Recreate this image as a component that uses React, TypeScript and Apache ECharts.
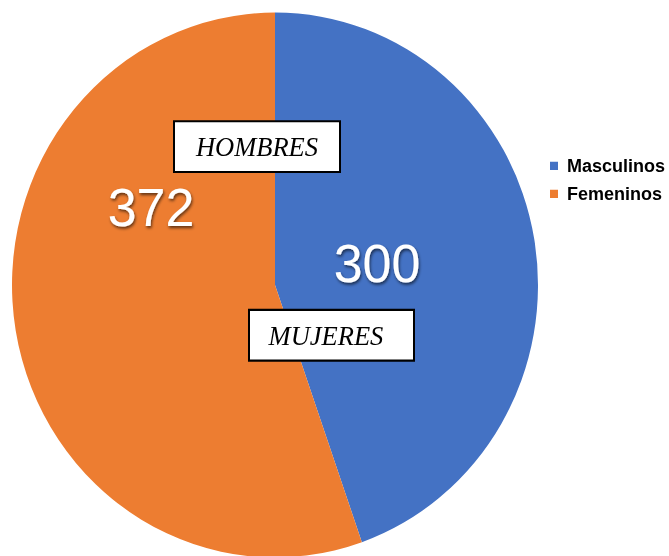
import React, { useEffect, useRef } from "react";
import * as echarts from "echarts";

const categories = ["Masculinos", "Femeninos"];
const values = [300, 372];
const colors = ["#4472C4", "#ED7D31"];
const boxLabels = ["HOMBRES", "MUJERES"];

export default function App() {
  const ref = useRef<HTMLDivElement>(null);
  useEffect(() => {
    if (!ref.current) return;
    const chart = echarts.init(ref.current, null, { renderer: "svg" });
    const labelPos = [
      { x: 377, y: 264 },
      { x: 151, y: 210 },
    ];
    chart.setOption({
      animation: false,
      backgroundColor: "#ffffff",
      legend: {
        orient: "vertical",
        left: 545,
        top: 156,
        itemWidth: 8,
        itemHeight: 8,
        itemGap: 9,
        icon: "rect",
        data: categories,
        textStyle: {
          fontFamily: "Liberation Sans, Arial, sans-serif",
          fontWeight: "bold",
          fontSize: 18,
          color: "#000",
          padding: [0, 0, 0, 4],
        },
      },
      series: [
        {
          type: "pie",
          center: [275, 285],
          radius: 263,
          startAngle: 90,
          clockwise: true,
          silent: true,
          itemStyle: { borderWidth: 0 },
          label: {
            show: true,
            position: "inside",
            formatter: "{c}",
            color: "#ffffff",
            fontFamily: "Liberation Sans, Arial, sans-serif",
            fontSize: 52,
            textShadowColor: "rgba(0,0,0,0.6)",
            textShadowBlur: 3,
            textShadowOffsetX: 1,
            textShadowOffsetY: 2,
          },
          labelLine: { show: false },
          labelLayout: (p: any) => ({
            x: labelPos[p.dataIndex].x,
            y: labelPos[p.dataIndex].y,
            align: "center",
            verticalAlign: "middle",
          }),
          data: categories.map((name, i) => ({
            name,
            value: values[i],
            itemStyle: { color: colors[i] },
          })),
        },
      ],
      graphic: [
        {
          type: "group",
          left: 173,
          top: 126,
          z: 100,
          children: [
            {
              type: "rect",
              z: 100,
              shape: { x: 0, y: 0, width: 166, height: 49 },
              style: { fill: "#ffffff", stroke: "#000000", lineWidth: 2 },
            },
            {
              type: "text",
              z: 101,
              style: {
                text: boxLabels[0],
                x: 83,
                y: 25,
                textAlign: "center",
                textVerticalAlign: "middle",
                font: "italic 26.5px 'Liberation Serif', 'Times New Roman', serif",
                fill: "#000000",
              },
            },
          ],
        },
        {
          type: "group",
          left: 248,
          top: 308,
          z: 100,
          children: [
            {
              type: "rect",
              z: 100,
              shape: { x: 0, y: 0, width: 165, height: 49 },
              style: { fill: "#ffffff", stroke: "#000000", lineWidth: 2 },
            },
            {
              type: "text",
              z: 101,
              style: {
                text: boxLabels[1],
                x: 77,
                y: 25,
                textAlign: "center",
                textVerticalAlign: "middle",
                font: "italic 26.5px 'Liberation Serif', 'Times New Roman', serif",
                fill: "#000000",
              },
            },
          ],
        },
      ],
    });
    return () => chart.dispose();
  }, []);
  return (
    <div
      ref={ref}
      style={{
        position: "fixed",
        left: 0,
        top: 0,
        width: 669,
        height: 556,
        transform: "scaleY(1.036)",
        transformOrigin: "0 285px",
      }}
    />
  );
}
